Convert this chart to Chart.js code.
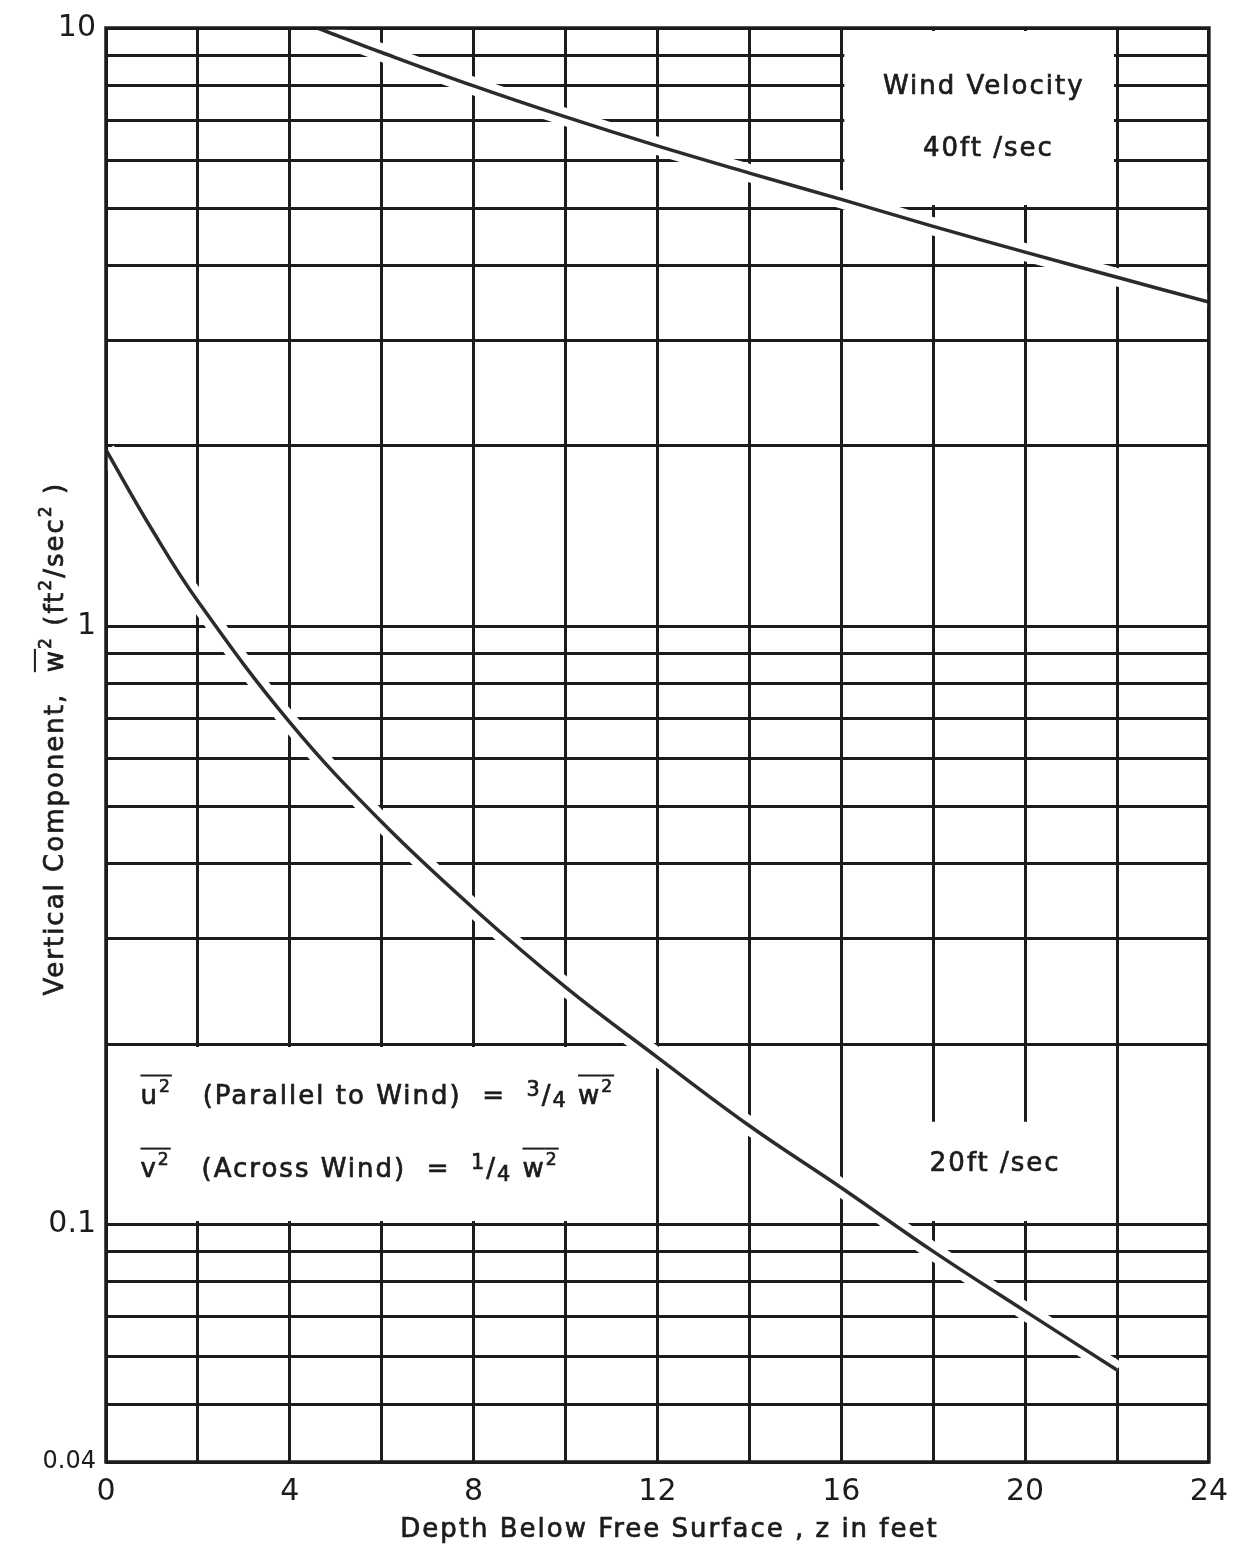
<!DOCTYPE html>
<html>
<head>
<meta charset="utf-8">
<title>Vertical component vs depth</title>
<script src="https://cdn.jsdelivr.net/npm/chart.js@4.4.1/dist/chart.umd.min.js"></script>
<style>
  html, body { margin: 0; padding: 0; background: #fff; }
  #wrap { width: 1240px; height: 1550px; }
</style>
</head>
<body>
<div id="wrap"><canvas id="chart" width="1240" height="1550"></canvas></div>
<script>
// values: depth z (ft) against vertical component w^2 (ft^2/sec^2)
const depth40 = [4.6, 6, 8, 10, 12, 14, 16, 18, 20, 22, 24];
const wsq40 = [10, 9.1, 8.0, 7.1, 6.35, 5.72, 5.17, 4.66, 4.22, 3.83, 3.48];

const depth20 = [0, 1, 2, 4, 6, 8, 10, 12, 14, 16, 18, 20, 22];
const wsq20 = [1.97, 1.45, 1.10, 0.69, 0.47, 0.337, 0.249, 0.19, 0.146, 0.115, 0.090, 0.0715, 0.057];

// grid lines and the ticks that carry a label
const xGrid = [0, 2, 4, 6, 8, 10, 12, 14, 16, 18, 20, 22, 24];
const xTickLabels = [0, 4, 8, 12, 16, 20, 24];
const yGrid = [0.04, 0.05, 0.06, 0.07, 0.08, 0.09,
               0.1, 0.2, 0.3, 0.4, 0.5, 0.6, 0.7, 0.8, 0.9,
               1, 2, 3, 4, 5, 6, 7, 8, 9, 10];
const yTickLabels = [0.04, 0.1, 1, 10];

const FONT = "'DejaVu Sans', 'Liberation Sans', sans-serif";
const INK = "#1c1c1c";

// blank patches of the paper where the lettering sits (in axis units)
const blankBoxes = [
    { x0: 16, x1: 22, y0: 5, y1: 10 },
    { x0: 0, x1: 12, y0: 0.1, y1: 0.2 },
    { x0: 16, x1: 22, y0: 0.1, y1: 0.15 },
];

function toPoints(xs, ys) {
    return xs.map((x, i) => ({ x: x, y: ys[i] }));
}

function sizeOf(r, size) {
    if (r.frac) return size * 0.8;
    return r.sup || r.sub ? size * 0.66 : size;
}

// text made of pieces: normal, superscript, subscript, with an overbar
function runsWidth(ctx, runs, size) {
    let w = 0;
    runs.forEach((r) => {
        ctx.font = sizeOf(r, size) + "px " + FONT;
        w += ctx.measureText(r.t).width;
    });
    return w;
}

function drawRuns(ctx, runs, x, y, size) {
    let cx = x;
    runs.forEach((r) => {
        ctx.font = sizeOf(r, size) + "px " + FONT;
        let dy = 0;
        if (r.sup) dy = r.frac ? -size * 0.3 : -size * 0.45;
        if (r.sub) dy = r.frac ? size * 0.15 : size * 0.22;
        ctx.lineWidth = 0.7;
        ctx.fillText(r.t, cx, y + dy);
        ctx.strokeText(r.t, cx, y + dy);
        const w = ctx.measureText(r.t).width;
        if (r.bar) {
            ctx.lineWidth = 2;
            ctx.beginPath();
            ctx.moveTo(cx, y - size * 1.08);
            ctx.lineTo(cx + w, y - size * 1.08);
            ctx.stroke();
        }
        cx += w;
    });
}

function boldText(ctx, text, x, y) {
    ctx.lineWidth = 0.7;
    ctx.fillText(text, x, y);
    ctx.strokeText(text, x, y);
}

const line1 = [
    { t: "u", bar: true }, { t: "2", sup: true, bar: true },
    { t: "   (Parallel to Wind)  =  " },
    { t: "3", sup: true, frac: true }, { t: "/" }, { t: "4", sub: true, frac: true }, { t: " " },
    { t: "w", bar: true }, { t: "2", sup: true, bar: true },
];
const line2 = [
    { t: "v", bar: true }, { t: "2", sup: true, bar: true },
    { t: "   (Across Wind)  =  " },
    { t: "1", sup: true, frac: true }, { t: "/" }, { t: "4", sub: true, frac: true }, { t: " " },
    { t: "w", bar: true }, { t: "2", sup: true, bar: true },
];
const yTitle = [
    { t: "Vertical Component,  " },
    { t: "w", bar: true }, { t: "2", sup: true },
    { t: " (ft" }, { t: "2", sup: true }, { t: "/sec" }, { t: "2", sup: true }, { t: " )" },
];

const paperNotes = {
    id: "paperNotes",
    beforeDatasetsDraw(chart) {
        const { ctx, scales: { x, y } } = chart;
        ctx.save();
        ctx.fillStyle = "#fff";
        blankBoxes.forEach((b) => {
            const l = x.getPixelForValue(b.x0) + 3;
            const r = x.getPixelForValue(b.x1) - 3;
            const t = y.getPixelForValue(b.y1) + 3;
            const btm = y.getPixelForValue(b.y0) - 3;
            ctx.fillRect(l, t, r - l, btm - t);
        });
        ctx.restore();
    },
    afterDatasetsDraw(chart) {
        const { ctx, chartArea: a, scales: { x, y } } = chart;
        ctx.save();

        // frame of the graph paper
        ctx.strokeStyle = INK;
        ctx.lineWidth = 3.5;
        ctx.strokeRect(a.left, a.top, a.right - a.left, a.bottom - a.top);

        ctx.fillStyle = INK;
        if ("letterSpacing" in ctx) ctx.letterSpacing = "2px";

        // curve labels
        ctx.textAlign = "center";
        ctx.textBaseline = "middle";
        ctx.font = "26px " + FONT;
        boldText(ctx, "Wind Velocity", x.getPixelForValue(19.1), y.getPixelForValue(7.97));
        boldText(ctx, "40ft /sec", x.getPixelForValue(19.2), y.getPixelForValue(6.26));
        boldText(ctx, "20ft /sec", x.getPixelForValue(19.35), y.getPixelForValue(0.126));

        // relation notes
        ctx.textAlign = "left";
        ctx.textBaseline = "alphabetic";
        drawRuns(ctx, line1, x.getPixelForValue(0.75), y.getPixelForValue(0.159), 26);
        drawRuns(ctx, line2, x.getPixelForValue(0.75), y.getPixelForValue(0.120), 26);

        // x axis title
        ctx.textAlign = "center";
        ctx.textBaseline = "middle";
        ctx.font = "26px " + FONT;
        boldText(ctx, "Depth Below Free Surface , z in feet", (a.left + a.right) / 2 + 12, 1530);

        // y axis title, rotated
        ctx.textAlign = "left";
        ctx.textBaseline = "alphabetic";
        const w = runsWidth(ctx, yTitle, 26);
        ctx.translate(63, y.getPixelForValue(0.6) - 20);
        ctx.rotate(-Math.PI / 2);
        drawRuns(ctx, yTitle, -w / 2, 0, 26);

        ctx.restore();
    },
};

const pts40 = toPoints(depth40, wsq40);
const pts20 = toPoints(depth20, wsq20);

const curveStyle = {
    pointRadius: 0,
    fill: false,
    tension: 0.4,
    clip: 0,
};

new Chart(document.getElementById("chart"), {
    type: "line",
    data: {
        datasets: [
            Object.assign({ label: "40 ft/sec", data: pts40, borderColor: "#2b2b2b", borderWidth: 3.5, order: 1 }, curveStyle),
            Object.assign({ label: "20 ft/sec", data: pts20, borderColor: "#2b2b2b", borderWidth: 3.5, order: 1 }, curveStyle),
            // paper gaps left round the drawn curves
            Object.assign({ label: "gap40", data: pts40, borderColor: "#fff", borderWidth: 18, order: 2 }, curveStyle),
            Object.assign({ label: "gap20", data: pts20, borderColor: "#fff", borderWidth: 18, order: 2 }, curveStyle),
        ],
    },
    options: {
        responsive: false,
        devicePixelRatio: 1,
        animation: false,
        layout: { padding: { left: 0, right: 28, top: 23, bottom: 0 } },
        plugins: {
            legend: { display: false },
            tooltip: { enabled: false },
        },
        scales: {
            x: {
                type: "linear",
                min: 0,
                max: 24,
                afterBuildTicks: (s) => { s.ticks = xGrid.map((v) => ({ value: v })); },
                afterFit: (s) => { s.height = 88; },
                grid: { color: INK, lineWidth: 3, drawTicks: false },
                border: { display: false },
                ticks: {
                    autoSkip: false,
                    maxRotation: 0,
                    padding: 12,
                    color: INK,
                    font: { family: FONT, size: 30 },
                    callback: (v) => (xTickLabels.includes(v) ? String(v) : ""),
                },
            },
            y: {
                type: "logarithmic",
                min: 0.04,
                max: 10,
                afterBuildTicks: (s) => { s.ticks = yGrid.map((v) => ({ value: v })); },
                afterFit: (s) => { s.width = 106; },
                grid: { color: INK, lineWidth: 3, drawTicks: false },
                border: { display: false },
                ticks: {
                    autoSkip: false,
                    padding: 10,
                    color: INK,
                    font: (c) => ({ family: FONT, size: c.tick && c.tick.value === 0.04 ? 24 : 30 }),
                    callback: (v) => (yTickLabels.includes(v) ? String(v) : ""),
                },
            },
        },
    },
    plugins: [paperNotes],
});
</script>
</body>
</html>
